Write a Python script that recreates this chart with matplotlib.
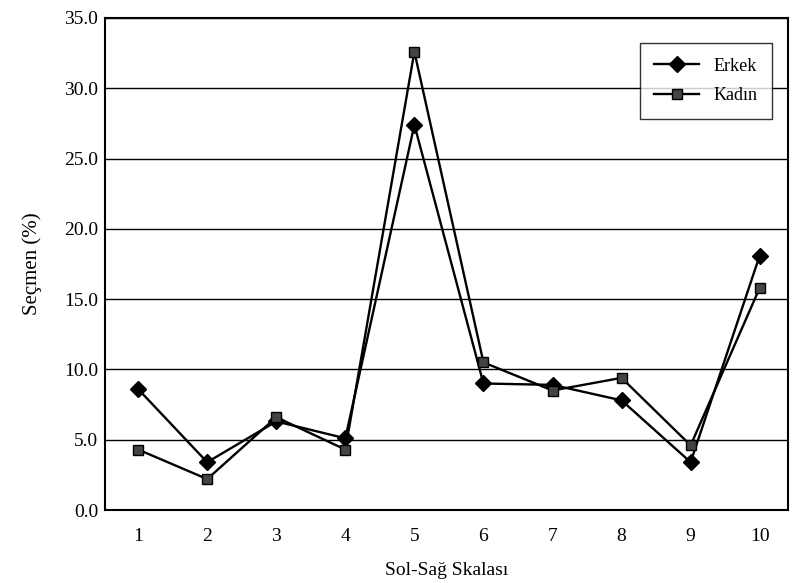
import matplotlib.pyplot as plt

plt.rcParams['font.family'] = ['Liberation Serif', 'DejaVu Serif']

skala = [1, 2, 3, 4, 5, 6, 7, 8, 9, 10]
erkek = [8.6, 3.4, 6.3, 5.1, 27.4, 9.0, 8.9, 7.8, 3.4, 18.1]
kadin = [4.3, 2.2, 6.6, 4.3, 32.6, 10.5, 8.5, 9.4, 4.6, 15.8]
y_ticks = [0, 5, 10, 15, 20, 25, 30, 35]

fig = plt.figure(figsize=(7.93, 5.83), dpi=100)
ax = fig.add_axes([0.1324, 0.1252, 0.8613, 0.844])

for yv in y_ticks:
    ax.axhline(yv, color='black', lw=1.0, zorder=1)

ax.plot(skala, erkek, color='black', lw=1.7, marker='D', ms=8,
        mfc='black', mec='black', label='Erkek', zorder=3)
ax.plot(skala, kadin, color='black', lw=1.7, marker='s', ms=7.5,
        mfc='#444444', mec='black', label='Kadın', zorder=3)

ax.set_xlim(0.52, 10.41)
ax.set_ylim(0, 35)
ax.set_xticks(skala)
ax.set_yticks(y_ticks)
ax.set_yticklabels([f"{v:.1f}" for v in y_ticks])
ax.tick_params(axis='x', length=0, labelsize=14, pad=13)
ax.tick_params(axis='y', length=0, labelsize=14, pad=5)

for s in ax.spines.values():
    s.set_linewidth(1.5)

ax.set_xlabel("Sol-Sağ Skalası", fontsize=14, labelpad=12)
ax.set_ylabel("Seçmen (%)", fontsize=15, labelpad=16)

leg = ax.legend(loc='upper right', bbox_to_anchor=(0.99, 0.967), fontsize=13,
                frameon=True, fancybox=False, edgecolor='black',
                handlelength=2.5, borderpad=0.8, labelspacing=0.7)
leg.get_frame().set_linewidth(1.0)

plt.savefig("out.png", dpi=100)
